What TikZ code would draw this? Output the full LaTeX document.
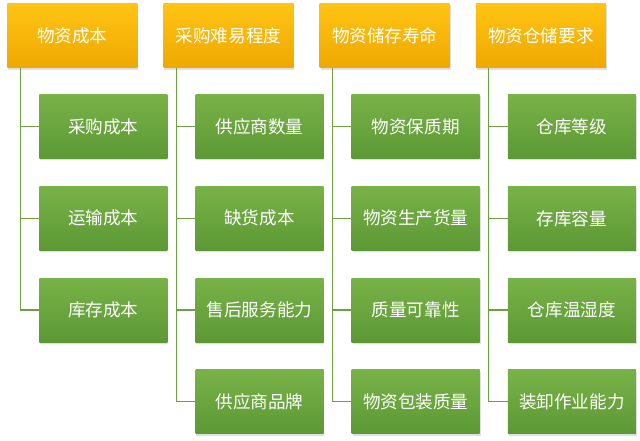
\documentclass[tikz,border=0pt]{standalone}
\usepackage{fontspec}
\newfontfamily\cjk{Noto Sans CJK SC}
\usetikzlibrary{positioning, shadows}

\definecolor{hdrtop}{RGB}{255,196,20}
\definecolor{hdrbot}{RGB}{238,168,0}
\definecolor{leaftop}{RGB}{120,178,72}
\definecolor{leafbot}{RGB}{92,152,52}
\definecolor{linkgreen}{RGB}{108,160,64}

\begin{document}
\begin{tikzpicture}[
    % Node styles
    header/.style={
        rectangle, top color=hdrtop, bottom color=hdrbot, draw=none,
        minimum width=3.25cm, minimum height=1.62cm,
        font=\cjk\fontsize{12.5}{14}\selectfont, text=white, align=center,
        drop shadow={shadow xshift=0.6pt, shadow yshift=-1.2pt, opacity=0.25}
    },
    leaf/.style={
        rectangle, top color=leaftop, bottom color=leafbot, draw=none,
        minimum width=3.2cm, minimum height=1.6cm,
        font=\cjk\fontsize{12.5}{14}\selectfont, text=white, align=center,
        drop shadow={shadow xshift=0.6pt, shadow yshift=-1.2pt, opacity=0.25}
    },
    link/.style={draw=linkgreen, line width=0.9pt},
    node distance=0.68cm
]

\useasboundingbox (0,0) rectangle (16,-11);

% ============================================================
% Headers
% ============================================================

\node[header] (cost) at (1.81,-0.89) {物资成本};
\node[header, right=0.64cm of cost] (purch) {采购难易程度};
\node[header, right=0.64cm of purch] (life) {物资储存寿命};
\node[header, right=0.64cm of life] (store) {物资仓储要求};

% ============================================================
% Children
% ============================================================

% -- 物资成本 --
\node[leaf, below right=0.65cm and 0.8cm of cost.south west] (cost1) {采购成本};
\node[leaf, below=of cost1] (cost2) {运输成本};
\node[leaf, below=of cost2] (cost3) {库存成本};

% -- 采购难易程度 --
\node[leaf, below right=0.65cm and 0.8cm of purch.south west] (purch1) {供应商数量};
\node[leaf, below=of purch1] (purch2) {缺货成本};
\node[leaf, below=of purch2] (purch3) {售后服务能力};
\node[leaf, below=of purch3] (purch4) {供应商品牌};

% -- 物资储存寿命 --
\node[leaf, below right=0.65cm and 0.8cm of life.south west] (life1) {物资保质期};
\node[leaf, below=of life1] (life2) {物资生产货量};
\node[leaf, below=of life2] (life3) {质量可靠性};
\node[leaf, below=of life3] (life4) {物资包装质量};

% -- 物资仓储要求 --
\node[leaf, below right=0.65cm and 0.8cm of store.south west] (store1) {仓库等级};
\node[leaf, below=of store1] (store2) {存库容量};
\node[leaf, below=of store2] (store3) {仓库温湿度};
\node[leaf, below=of store3] (store4) {装卸作业能力};

% ============================================================
% Connectors
% ============================================================

\coordinate (costT) at ([xshift=0.33cm]cost.south west);
\coordinate (purchT) at ([xshift=0.33cm]purch.south west);
\coordinate (lifeT) at ([xshift=0.33cm]life.south west);
\coordinate (storeT) at ([xshift=0.33cm]store.south west);

\draw[link] (costT) |- (cost3.west);
\draw[link] (costT |- cost1.west) -- (cost1.west);
\draw[link] (costT |- cost2.west) -- (cost2.west);

\draw[link] (purchT) |- (purch4.west);
\draw[link] (purchT |- purch1.west) -- (purch1.west);
\draw[link] (purchT |- purch2.west) -- (purch2.west);
\draw[link] (purchT |- purch3.west) -- (purch3.west);

\draw[link] (lifeT) |- (life4.west);
\draw[link] (lifeT |- life1.west) -- (life1.west);
\draw[link] (lifeT |- life2.west) -- (life2.west);
\draw[link] (lifeT |- life3.west) -- (life3.west);

\draw[link] (storeT) |- (store4.west);
\draw[link] (storeT |- store1.west) -- (store1.west);
\draw[link] (storeT |- store2.west) -- (store2.west);
\draw[link] (storeT |- store3.west) -- (store3.west);

\end{tikzpicture}
\end{document}
